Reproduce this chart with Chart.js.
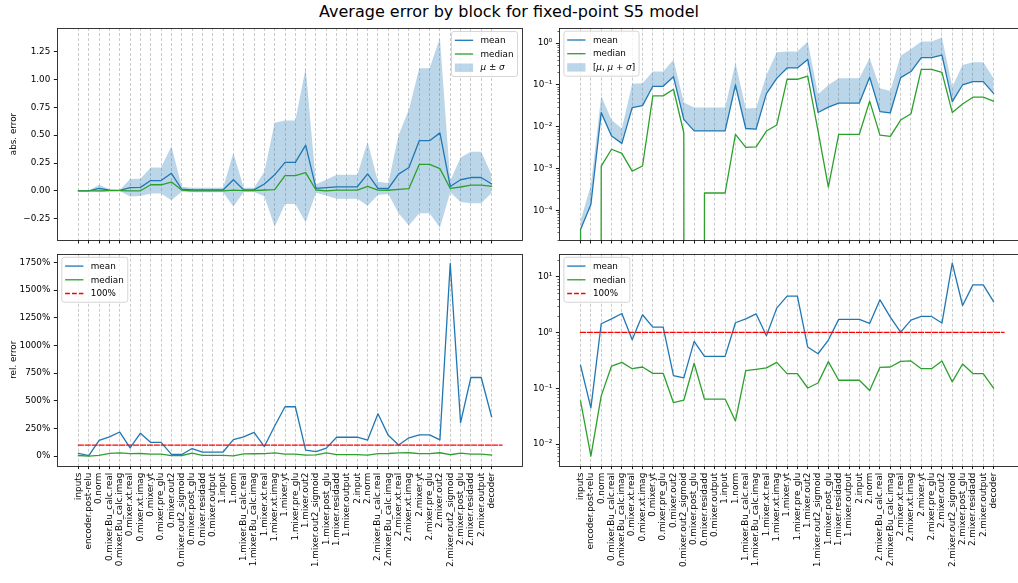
<!DOCTYPE html>
<html><head><meta charset="utf-8">
<script src="https://cdn.jsdelivr.net/npm/chart.js@4"></script>
<style>
html,body{margin:0;padding:0;overflow:hidden;background:#fff;width:1018px;height:583px}
#fig{position:relative;width:1018px;height:583px;overflow:hidden;background:#fff}
canvas{position:absolute}
#title{position:absolute;left:0;top:4px;width:1018px;text-align:center;font-family:'DejaVu Sans',sans-serif;font-size:16px;line-height:16px;color:#000;white-space:nowrap}
</style></head><body>
<div id="fig">
<div id="title">Average error by block for fixed-point S5 model</div>
<canvas id="tl" width="540" height="250" style="left:0px;top:0px"></canvas>
<canvas id="tr" width="520" height="250" style="left:520px;top:0px"></canvas>
<canvas id="bl" width="540" height="338" style="left:0px;top:245px"></canvas>
<canvas id="br" width="520" height="338" style="left:520px;top:245px"></canvas>
</div>
<script>
// ---------------- data ----------------
const categories = [
  'inputs','encoder.post-relu','0.norm','0.mixer.Bu_calc.real','0.mixer.Bu_calc.imag',
  '0.mixer.xt.real','0.mixer.xt.imag','0.mixer.yt','0.mixer.pre_glu','0.mixer.out2',
  '0.mixer.out2_sigmoid','0.mixer.post_glu','0.mixer.residadd','0.mixer.output','1.input',
  '1.norm','1.mixer.Bu_calc.real','1.mixer.Bu_calc.imag','1.mixer.xt.real','1.mixer.xt.imag',
  '1.mixer.yt','1.mixer.pre_glu','1.mixer.out2','1.mixer.out2_sigmoid','1.mixer.post_glu',
  '1.mixer.residadd','1.mixer.output','2.input','2.norm','2.mixer.Bu_calc.real',
  '2.mixer.Bu_calc.imag','2.mixer.xt.real','2.mixer.xt.imag','2.mixer.yt','2.mixer.pre_glu',
  '2.mixer.out2','2.mixer.out2_sigmoid','2.mixer.post_glu','2.mixer.residadd','2.mixer.output',
  'decoder'
];
// absolute error
const absMean = [
  3.5e-5, 1.38e-4, 0.0218, 0.006, 0.004, 0.0288, 0.032, 0.093, 0.093, 0.158,
  0.015, 0.008, 0.008, 0.008, 0.008, 0.100, 0.0091, 0.0088, 0.062, 0.144,
  0.256, 0.256, 0.41, 0.022, 0.0296, 0.037, 0.037, 0.037, 0.153, 0.023,
  0.0216, 0.15, 0.21, 0.45, 0.45, 0.52, 0.040, 0.100, 0.12, 0.12,
  0.063
];
const absStd = [
  2.2e-5, 2.6e-4, 0.033, 0.0085, 0.0051, 0.078, 0.078, 0.117, 0.117, 0.242,
  0.023, 0.021, 0.021, 0.021, 0.021, 0.24, 0.0184, 0.0192, 0.11, 0.466,
  0.374, 0.374, 0.69, 0.038, 0.070, 0.108, 0.108, 0.108, 0.287, 0.060,
  0.050, 0.35, 0.52, 0.65, 0.65, 0.85, 0.051, 0.20, 0.23, 0.23,
  0.082
];
const absMedian = [
  3.3e-5, 0, 0.00114, 0.0029, 0.0023, 0.00087, 0.00115, 0.055, 0.055, 0.079,
  0.0072, 0, 2.6e-4, 2.6e-4, 2.6e-4, 0.0066, 0.0032, 0.0033, 0.0079, 0.011,
  0.137, 0.137, 0.164, 0.008, 3.6e-4, 0.0066, 0.0066, 0.0066, 0.041, 0.0063,
  0.0059, 0.0145, 0.0205, 0.237, 0.237, 0.20, 0.022, 0.035, 0.051, 0.051,
  0.041
];
// relative error (1 = 100%)
const relMean = [
  0.257, 0.0446, 1.43, 1.75, 2.18, 0.74, 2.07, 1.24, 1.24, 0.168,
  0.153, 0.69, 0.373, 0.373, 0.373, 1.49, 1.75, 2.15, 0.87, 2.72,
  4.46, 4.46, 0.547, 0.415, 0.73, 1.71, 1.71, 1.71, 1.45, 3.83,
  1.88, 1.01, 1.66, 1.93, 1.93, 1.47, 17.4, 3.03, 7.1, 7.1,
  3.57
];
const relMedian = [
  0.059, 0.0061, 0.073, 0.25, 0.291, 0.224, 0.24, 0.185, 0.185, 0.055,
  0.061, 0.28, 0.064, 0.064, 0.064, 0.026, 0.207, 0.218, 0.231, 0.291,
  0.183, 0.183, 0.101, 0.124, 0.30, 0.139, 0.139, 0.139, 0.091, 0.237,
  0.24, 0.303, 0.308, 0.224, 0.224, 0.308, 0.13, 0.272, 0.183, 0.183,
  0.101
];
const relReference = 1; // 100%

// tick values / labels
const absTicks = [-0.25, 0, 0.25, 0.5, 0.75, 1.0, 1.25];
const absTickLabels = ['\u22120.25','0.00','0.25','0.50','0.75','1.00','1.25'];
const absLogTicks = [1e-4, 1e-3, 1e-2, 1e-1, 1];
const absLogTickLabels = ['10\u207B\u2074','10\u207B\u00B3','10\u207B\u00B2','10\u207B\u00B9','10\u2070'];
const relTicks = [0, 2.5, 5, 7.5, 10, 12.5, 15, 17.5];
const relTickLabels = ['0%','250%','500%','750%','1000%','1250%','1500%','1750%'];
const relLogTicks = [1e-2, 1e-1, 1, 10];
const relLogTickLabels = ['10\u207B\u00B2','10\u207B\u00B9','10\u2070','10\u00B9'];

// ---------------- styling ----------------
const FS = 8.8;
const FONT = "'DejaVu Sans', 'Liberation Sans', sans-serif";
const C_MEAN = '#1f77b4', C_MED = '#2ca02c', C_REF = '#ff0000';
const C_BAND = 'rgba(31,119,180,0.3)';
const LW = 1.3;
const XMIN = -2.05, XMAX = 42.9;

Chart.defaults.font.family = FONT;
Chart.defaults.font.size = FS;
Chart.defaults.color = '#000';

const pts = arr => arr.map((v, i) => ({x: i, y: v}));
const logSafe = v => (v > 0 ? v : 1e-300); // like matplotlib's nonpositive clipping

function fontStr(it) { return (it ? 'italic ' : '') + FS + 'px ' + FONT; }
function segsOf(label) { return Array.isArray(label) ? label : [{t: label}]; }
function measureSegs(ctx, segs) { let w = 0; for (const s of segs) { ctx.font = fontStr(s.i); w += ctx.measureText(s.t).width; } return w; }
function drawSegs(ctx, segs, x, y) { for (const s of segs) { ctx.font = fontStr(s.i); ctx.fillText(s.t, x, y); x += ctx.measureText(s.t).width; } }
function rrect(ctx, x, y, w, h, r) {
  ctx.beginPath();
  ctx.moveTo(x + r, y); ctx.lineTo(x + w - r, y); ctx.arcTo(x + w, y, x + w, y + r, r);
  ctx.lineTo(x + w, y + h - r); ctx.arcTo(x + w, y + h, x + w - r, y + h, r);
  ctx.lineTo(x + r, y + h); ctx.arcTo(x, y + h, x, y + h - r, r);
  ctx.lineTo(x, y + r); ctx.arcTo(x, y, x + r, y, r); ctx.closePath();
}

const mplDecor = {
  id: 'mplDecor',
  afterDraw(chart, args, o) {
    const ctx = chart.ctx, a = chart.chartArea;
    ctx.save();
    // minor log ticks
    if (o.minor) {
      const ys = chart.scales.y;
      ctx.strokeStyle = '#000'; ctx.lineWidth = 0.6;
      const lo = Math.floor(Math.log10(ys.min)), hi = Math.ceil(Math.log10(ys.max));
      for (let d = lo; d <= hi; d++) for (let k = 2; k <= 9; k++) {
        const v = k * Math.pow(10, d);
        if (v < ys.min || v > ys.max) continue;
        const y = Math.round(ys.getPixelForValue(v)) + 0.5;
        ctx.beginPath(); ctx.moveTo(a.left, y); ctx.lineTo(a.left - 2, y); ctx.stroke();
      }
    }
    // frame
    ctx.strokeStyle = '#222'; ctx.lineWidth = 0.9;
    ctx.strokeRect(Math.round(a.left) + 0.5, Math.round(a.top) + 0.5, Math.round(a.right) - Math.round(a.left), Math.round(a.bottom) - Math.round(a.top));
    // y-axis title
    if (o.yTitle) {
      ctx.save();
      ctx.translate(o.yTitleX, (a.top + a.bottom) / 2);
      ctx.rotate(-Math.PI / 2);
      ctx.fillStyle = '#000'; ctx.textAlign = 'center'; ctx.textBaseline = 'middle';
      ctx.font = fontStr(false);
      ctx.fillText(o.yTitle, 0, 0);
      ctx.restore();
    }
    // legend
    if (o.legend) {
      const L = o.legend;
      const widths = L.items.map(it => measureSegs(ctx, segsOf(it.label)));
      const w = 29 + Math.max(...widths) + 4;
      const h = 45;
      const x0 = L.align === 'right' ? a.right - 4 - w : a.left + 4.5;
      const y0 = a.top + 3.5;
      rrect(ctx, x0, y0, w, h, 2.5);
      ctx.fillStyle = 'rgba(255,255,255,0.8)'; ctx.fill();
      ctx.strokeStyle = '#cccccc'; ctx.lineWidth = 0.8; ctx.stroke();
      L.items.forEach((it, i) => {
        const y = y0 + 8.8 + 13.7 * i;
        if (it.type === 'patch') {
          ctx.fillStyle = it.color; ctx.fillRect(x0 + 3.3, y - 4.2, 18.3, 8.4);
        } else {
          ctx.strokeStyle = it.color; ctx.lineWidth = LW; ctx.setLineDash(it.dash || []);
          ctx.beginPath(); ctx.moveTo(x0 + 3.3, y); ctx.lineTo(x0 + 21.6, y); ctx.stroke();
          ctx.setLineDash([]);
        }
        ctx.fillStyle = '#000'; ctx.textAlign = 'left'; ctx.textBaseline = 'middle';
        drawSegs(ctx, segsOf(it.label), x0 + 29, y + 0.5);
      });
    }
    ctx.restore();
  }
};

function makeChart(id, cfg) {
  const canvas = document.getElementById(id);
  const W = canvas.width, H = canvas.height;
  const a = cfg.area, cl = cfg.left, ct = cfg.top;
  const yW = cfg.yAxisW, xH = cfg.xAxisH;
  const isLog = cfg.yType === 'logarithmic';
  return new Chart(canvas, {
    type: 'line',
    data: {datasets: cfg.datasets},
    options: {
      responsive: false, animation: false, events: [],
      layout: {padding: {left: a.l - cl - yW, top: a.t - ct, right: cl + W - a.r, bottom: ct + H - a.b - xH}},
      elements: {point: {radius: 0}, line: {tension: 0, borderJoinStyle: 'round', borderCapStyle: 'square'}},
      plugins: {
        legend: {display: false}, tooltip: {enabled: false}, title: {display: false},
        mplDecor: {minor: isLog, yTitle: cfg.yTitle, yTitleX: 14 - cl, legend: cfg.legend}
      },
      scales: {
        x: {
          type: 'linear', min: XMIN, max: XMAX, bounds: 'data',
          afterBuildTicks: s => { s.ticks = categories.map((_, i) => ({value: i})); },
          afterFit: s => { s.height = xH; },
          ticks: {display: cfg.xLabels, autoSkip: false, maxRotation: 90, minRotation: 90, padding: 3.5,
                  color: '#000', font: {size: FS}, callback: (v, i) => categories[i]},
          grid: {display: true, drawOnChartArea: true, drawTicks: true, color: 'rgba(176,176,176,0.75)', lineWidth: 0.9,
                 tickLength: 3.5, tickColor: '#000', tickWidth: 0.9, tickBorderDash: []},
          border: {display: false, dash: [3, 2]}
        },
        y: {
          type: cfg.yType, min: cfg.yMin, max: cfg.yMax, bounds: 'data',
          afterBuildTicks: s => { s.ticks = cfg.yTicks.map(v => ({value: v})); },
          afterFit: s => { s.width = yW; },
          ticks: {color: '#000', padding: 3.5, font: {size: FS}, callback: (v, i) => cfg.yTickLabels[i]},
          grid: {display: true, drawOnChartArea: false, drawTicks: true, tickLength: 3.5, tickColor: '#000', tickWidth: 0.9},
          border: {display: false}
        }
      }
    },
    plugins: [mplDecor]
  });
}

const lineDS = (label, data, color, order, extra) => Object.assign({
  label, data, borderColor: color, borderWidth: LW, pointRadius: 0, fill: false, order
}, extra || {});

const absUpper = absMean.map((m, i) => m + absStd[i]);
const absLower = absMean.map((m, i) => m - absStd[i]);

const legendAbsLin = {align: 'right', items: [
  {label: 'mean', type: 'line', color: C_MEAN},
  {label: 'median', type: 'line', color: C_MED},
  {label: [{t: '\u03BC', i: 1}, {t: ' \u00B1 '}, {t: '\u03C3', i: 1}], type: 'patch', color: C_BAND}
]};
const legendAbsLog = {align: 'left', items: [
  {label: 'mean', type: 'line', color: C_MEAN},
  {label: 'median', type: 'line', color: C_MED},
  {label: [{t: '['}, {t: '\u03BC', i: 1}, {t: ', '}, {t: '\u03BC', i: 1}, {t: ' + '}, {t: '\u03C3', i: 1}, {t: ']'}], type: 'patch', color: C_BAND}
]};
const legendRel = {align: 'left', items: [
  {label: 'mean', type: 'line', color: C_MEAN},
  {label: 'median', type: 'line', color: C_MED},
  {label: '100%', type: 'line', color: C_REF, dash: [4.8, 2.1]}
]};

const refLine = [{x: 0, y: relReference}, {x: categories.length, y: relReference}];

// top-left: absolute error, linear, mean +/- std
makeChart('tl', {
  left: 0, top: 0, area: {l: 57.3, t: 28, r: 521.5, b: 240}, yAxisW: 40, xAxisH: 6, xLabels: false,
  yType: 'linear', yMin: -0.44, yMax: 1.46, yTicks: absTicks, yTickLabels: absTickLabels,
  yTitle: 'abs. error', legend: legendAbsLin,
  datasets: [
    lineDS('mean', pts(absMean), C_MEAN, 1),
    lineDS('median', pts(absMedian), C_MED, 0),
    lineDS('band', pts(absUpper), 'rgba(0,0,0,0)', 3, {borderWidth: 0, backgroundColor: C_BAND, fill: '+1'}),
    lineDS('bandLo', pts(absLower), 'rgba(0,0,0,0)', 4, {borderWidth: 0})
  ]
});
// top-right: absolute error, log, [mean, mean+std]
makeChart('tr', {
  left: 520, top: 0, area: {l: 559.4, t: 27.7, r: 1023.5, b: 240}, yAxisW: 30, xAxisH: 6, xLabels: false,
  yType: 'logarithmic', yMin: 1.95e-5, yMax: 2.35, yTicks: absLogTicks, yTickLabels: absLogTickLabels,
  legend: legendAbsLog,
  datasets: [
    lineDS('mean', pts(absMean), C_MEAN, 1),
    lineDS('median', pts(absMedian.map(logSafe)), C_MED, 0),
    lineDS('band', pts(absUpper), 'rgba(0,0,0,0)', 3, {borderWidth: 0, backgroundColor: C_BAND, fill: '-2'})
  ]
});
// bottom-left: relative error, linear (percent)
makeChart('bl', {
  left: 0, top: 245, area: {l: 57.3, t: 253.3, r: 521.5, b: 465.7}, yAxisW: 40, xAxisH: 110, xLabels: true,
  yType: 'linear', yMin: -0.86, yMax: 18.27, yTicks: relTicks, yTickLabels: relTickLabels,
  yTitle: 'rel. error', legend: legendRel,
  datasets: [
    lineDS('mean', pts(relMean), C_MEAN, 2),
    lineDS('median', pts(relMedian), C_MED, 1),
    lineDS('100%', refLine, C_REF, 0, {borderDash: [4.8, 2.1]})
  ]
});
// bottom-right: relative error, log
makeChart('br', {
  left: 520, top: 245, area: {l: 559.4, t: 253.3, r: 1023.5, b: 465.7}, yAxisW: 30, xAxisH: 110, xLabels: true,
  yType: 'logarithmic', yMin: 0.0041, yMax: 25.6, yTicks: relLogTicks, yTickLabels: relLogTickLabels,
  legend: legendRel,
  datasets: [
    lineDS('mean', pts(relMean), C_MEAN, 2),
    lineDS('median', pts(relMedian), C_MED, 1),
    lineDS('100%', refLine, C_REF, 0, {borderDash: [4.8, 2.1]})
  ]
});
</script>
</body></html>
